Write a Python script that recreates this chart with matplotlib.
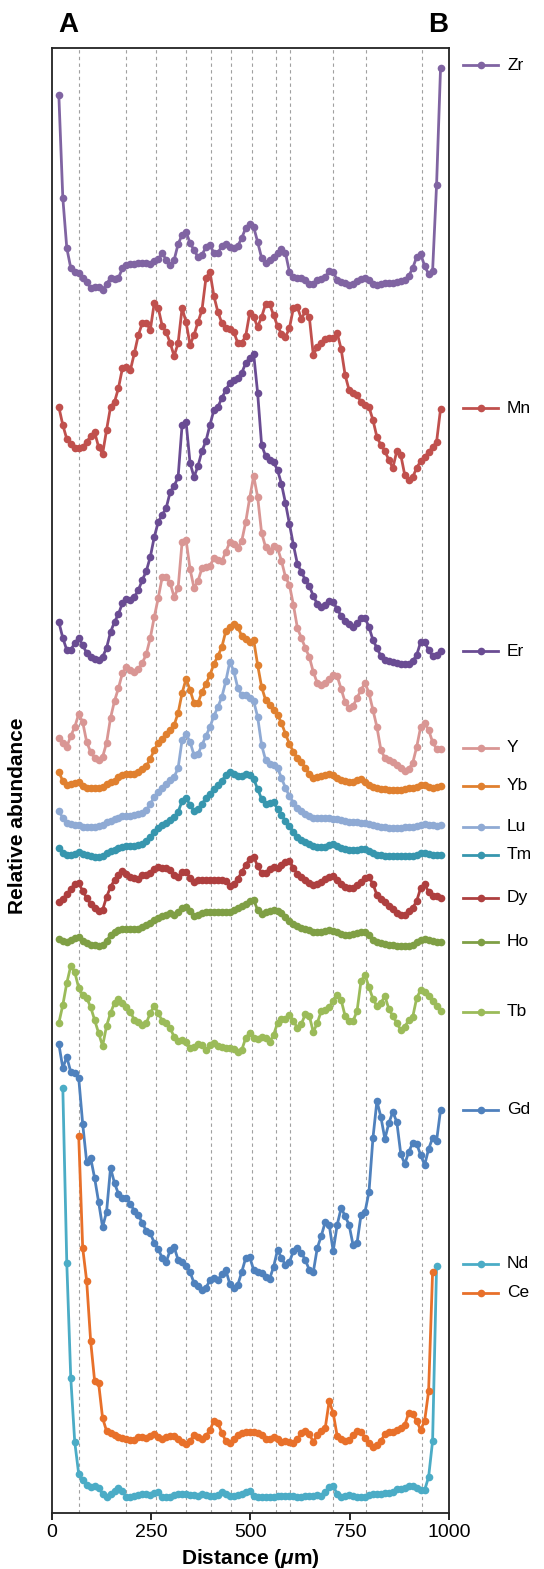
import numpy as np
import matplotlib.pyplot as plt
from matplotlib import transforms

plt.rcParams['font.family'] = ['Liberation Sans', 'DejaVu Sans']
plt.rcParams['mathtext.fontset'] = 'custom'
plt.rcParams['mathtext.it'] = 'Liberation Sans:italic:bold'
plt.rcParams['mathtext.rm'] = 'Liberation Sans:bold'

# Mätpunkter längs profilen A-B (µm)
distance = np.arange(18, 979, 10)

# Relativ halt (förskjuten per element)
zr = [1418, 1315, 1265, 1245, 1241, 1240, 1235, 1231, 1225, 1226,
      1226, 1223, 1229, 1235, 1234, 1235, 1245, 1248, 1249, 1249,
      1250, 1250, 1250, 1249, 1252, 1254, 1260, 1253, 1248, 1253,
      1269, 1278, 1281, 1270, 1263, 1256, 1258, 1266, 1268, 1260,
      1260, 1267, 1269, 1266, 1265, 1267, 1275, 1285, 1289, 1286,
      1271, 1255, 1250, 1253, 1256, 1260, 1264, 1260, 1241, 1236,
      1235, 1235, 1233, 1229, 1229, 1233, 1234, 1236, 1242, 1241,
      1233, 1231, 1230, 1228, 1229, 1232, 1234, 1235, 1233, 1229,
      1228, 1229, 1230, 1230, 1230, 1231, 1232, 1233, 1237, 1245,
      1256, 1259, 1247, 1239, 1242, 1328, 1445]
mn = [1106, 1088, 1074, 1069, 1065, 1065, 1066, 1071, 1077, 1081,
      1066, 1059, 1083, 1106, 1111, 1125, 1145, 1146, 1143, 1160,
      1178, 1190, 1190, 1183, 1210, 1205, 1187, 1181, 1170, 1157,
      1170, 1205, 1191, 1168, 1178, 1191, 1203, 1235, 1241, 1217,
      1201, 1190, 1185, 1184, 1181, 1170, 1170, 1177, 1200, 1196,
      1186, 1196, 1209, 1209, 1198, 1187, 1179, 1176, 1185, 1205,
      1206, 1194, 1202, 1196, 1158, 1166, 1170, 1174, 1175, 1175,
      1180, 1164, 1138, 1123, 1120, 1118, 1111, 1108, 1106, 1093,
      1076, 1068, 1062, 1053, 1045, 1062, 1058, 1038, 1033, 1036,
      1045, 1052, 1056, 1061, 1066, 1071, 1104]
er = [891, 875, 863, 863, 870, 875, 868, 860, 856, 854,
      853, 856, 865, 881, 891, 899, 910, 914, 913, 916,
      923, 933, 942, 956, 976, 991, 998, 1005, 1021, 1027,
      1036, 1088, 1091, 1050, 1036, 1047, 1062, 1072, 1088, 1103,
      1106, 1115, 1123, 1130, 1133, 1135, 1140, 1150, 1155, 1159,
      1120, 1068, 1057, 1053, 1051, 1043, 1029, 1010, 989, 968,
      949, 941, 933, 927, 917, 909, 906, 908, 912, 911,
      904, 897, 892, 889, 886, 890, 895, 895, 886, 873,
      865, 857, 853, 852, 851, 850, 849, 849, 849, 852,
      858, 871, 871, 863, 857, 858, 862]
y = [775, 770, 766, 777, 786, 799, 791, 771, 761, 755,
     753, 756, 770, 795, 812, 825, 840, 846, 843, 841,
     844, 850, 859, 875, 896, 915, 936, 936, 930, 916,
     925, 971, 973, 944, 925, 932, 945, 946, 947, 955,
     953, 952, 961, 971, 969, 965, 972, 991, 1015, 1037,
     1016, 980, 966, 962, 967, 965, 952, 936, 928, 908,
     885, 875, 865, 856, 841, 830, 828, 830, 834, 838,
     837, 824, 811, 805, 807, 815, 823, 830, 820, 803,
     786, 763, 755, 753, 751, 748, 745, 742, 744, 750,
     766, 786, 790, 783, 771, 764, 764]
yb = [741, 732, 728, 729, 730, 731, 727, 725, 725, 725,
      725, 726, 729, 731, 732, 736, 738, 739, 739, 739,
      741, 744, 747, 754, 763, 770, 774, 779, 783, 788,
      800, 820, 834, 823, 810, 810, 821, 829, 838, 849,
      857, 866, 882, 886, 889, 886, 877, 874, 871, 873,
      848, 826, 813, 808, 803, 798, 790, 779, 769, 761,
      755, 751, 745, 739, 735, 736, 737, 738, 739, 738,
      735, 733, 732, 731, 731, 733, 734, 731, 728, 726,
      725, 724, 724, 723, 723, 723, 723, 724, 725, 725,
      726, 728, 728, 726, 725, 726, 727]
lu = [702, 695, 690, 689, 688, 688, 686, 686, 686, 686,
      687, 688, 691, 692, 694, 695, 697, 697, 697, 698,
      699, 700, 703, 709, 716, 721, 725, 729, 733, 736,
      745, 773, 779, 771, 758, 759, 768, 777, 786, 797,
      806, 816, 832, 851, 842, 825, 818, 818, 815, 812,
      796, 768, 753, 749, 748, 745, 735, 725, 717, 710,
      705, 702, 699, 697, 695, 695, 695, 695, 695, 694,
      694, 693, 692, 691, 691, 691, 690, 690, 689, 688,
      687, 686, 686, 685, 685, 685, 685, 686, 686, 686,
      687, 688, 689, 688, 688, 687, 688]
tm = [665, 660, 658, 658, 659, 661, 659, 658, 657, 656,
      656, 657, 660, 662, 663, 665, 666, 667, 667, 667,
      668, 669, 672, 676, 681, 685, 688, 690, 693, 696,
      701, 712, 715, 708, 702, 704, 709, 715, 719, 724,
      728, 732, 738, 741, 739, 737, 737, 739, 738, 734,
      724, 714, 709, 710, 711, 704, 698, 692, 687, 681,
      676, 673, 671, 669, 667, 666, 666, 666, 668, 669,
      667, 665, 664, 663, 663, 663, 664, 664, 662, 660,
      658, 658, 657, 657, 657, 657, 657, 657, 657, 657,
      658, 660, 660, 659, 658, 658, 658]
dy = [611, 614, 619, 624, 629, 630, 622, 615, 609, 605,
      602, 603, 616, 626, 633, 638, 642, 639, 636, 635,
      634, 638, 638, 640, 644, 646, 645, 645, 643, 638,
      636, 641, 641, 635, 631, 633, 633, 633, 633, 633,
      633, 633, 632, 627, 629, 634, 641, 648, 654, 656,
      647, 640, 640, 644, 646, 645, 648, 651, 652, 645,
      639, 636, 633, 630, 628, 629, 631, 634, 636, 637,
      633, 629, 626, 625, 625, 628, 631, 635, 636, 629,
      618, 614, 611, 607, 604, 600, 598, 598, 602, 605,
      612, 625, 629, 621, 617, 617, 615]
ho = [574, 572, 571, 573, 575, 576, 572, 570, 568, 568,
      567, 568, 572, 578, 581, 583, 584, 584, 584, 584,
      584, 586, 588, 590, 593, 595, 597, 598, 600, 598,
      601, 605, 606, 602, 597, 598, 600, 601, 601, 601,
      601, 601, 601, 601, 603, 605, 607, 609, 612, 613,
      603, 599, 601, 602, 603, 602, 600, 596, 592, 589,
      587, 585, 584, 583, 581, 581, 581, 582, 583, 582,
      581, 579, 578, 578, 579, 580, 581, 581, 578, 573,
      571, 570, 569, 568, 568, 567, 567, 567, 567, 568,
      571, 573, 574, 573, 572, 571, 571]
tb = [490, 508, 530, 547, 541, 525, 518, 515, 506, 493,
      480, 467, 487, 500, 510, 514, 510, 506, 501, 493,
      491, 488, 490, 500, 507, 500, 492, 490, 485, 476,
      472, 473, 471, 465, 466, 469, 468, 463, 468, 470,
      467, 466, 465, 465, 464, 461, 463, 475, 480, 475,
      474, 476, 475, 471, 478, 490, 494, 494, 498, 492,
      485, 489, 499, 497, 481, 490, 502, 503, 506, 512,
      518, 513, 497, 492, 492, 502, 532, 538, 526, 514,
      507, 510, 517, 504, 497, 490, 483, 486, 493, 496,
      515, 523, 521, 517, 512, 507, 502]
gd = [469, 445, 456, 441, 440, 435, 389, 351, 355, 335,
      311, 286, 301, 345, 330, 319, 315, 315, 309, 302,
      298, 290, 282, 280, 270, 264, 255, 251, 263, 266,
      253, 251, 247, 241, 230, 227, 223, 225, 233, 235,
      233, 239, 243, 229, 225, 228, 241, 255, 256, 243,
      241, 240, 236, 234, 246, 263, 255, 248, 251, 262,
      265, 260, 253, 243, 241, 265, 277, 291, 288, 262,
      288, 305, 297, 288, 268, 270, 298, 301, 321, 375,
      412, 396, 374, 390, 401, 391, 359, 349, 361, 370,
      369, 358, 348, 364, 375, 372, 403]
# Nd mätt från punkt 1 till 95, Ce från punkt 5 till 94
nd = [425, 250, 135, 71, 39, 33, 28, 26, 27,
      25, 19, 16, 19, 22, 25, 22, 16, 16, 17,
      18, 19, 19, 18, 20, 21, 16, 16, 16, 18,
      19, 19, 19, 18, 18, 17, 19, 18, 17, 17,
      18, 21, 19, 17, 17, 18, 19, 21, 22, 17,
      16, 16, 16, 16, 16, 17, 17, 17, 17, 17,
      16, 16, 17, 17, 17, 18, 17, 21, 26, 27,
      19, 16, 17, 18, 17, 16, 16, 16, 18, 19,
      19, 19, 20, 20, 21, 24, 24, 25, 27, 27,
      25, 23, 23, 36, 72, 247]
ce = [377, 265, 232, 172, 132,
      130, 95, 82, 80, 78, 76, 75, 74, 73, 73,
      76, 76, 75, 77, 79, 76, 74, 76, 77, 77,
      74, 71, 69, 72, 78, 76, 74, 77, 83, 92,
      90, 80, 72, 70, 74, 78, 80, 81, 81, 81,
      80, 78, 74, 74, 76, 74, 71, 72, 71, 70,
      74, 80, 82, 79, 71, 78, 82, 85, 112, 100,
      77, 74, 72, 73, 78, 82, 81, 75, 70, 66,
      68, 72, 79, 81, 81, 83, 85, 88, 100, 99,
      92, 83, 92, 122, 241]

names = ['Zr', 'Mn', 'Er', 'Y', 'Yb', 'Lu', 'Tm', 'Dy', 'Ho', 'Tb', 'Gd', 'Nd', 'Ce']
values = [zr, mn, er, y, yb, lu, tm, dy, ho, tb, gd, nd, ce]
start = [0, 0, 0, 0, 0, 0, 0, 0, 0, 0, 0, 1, 5]
colors = ['#8064A2', '#C0504D', '#6A4C93', '#D99694', '#E0802F', '#8FAAD4', '#3796AE',
          '#AE3F3F', '#7F9F45', '#9BBB59', '#4F81BD', '#4BACC6', '#E8702A']
# etikettens höjd i högermarginalen (samma skala som data)
label_y = [1448, 1105, 862, 765, 727, 686, 658, 615, 571, 501, 403, 249, 220]

# gränser mellan zoner (µm)
zones = [69, 188, 262, 337, 400, 450, 505, 563, 600, 708, 790, 931]

fig = plt.figure(figsize=(5.44, 15.69), dpi=100)
ax = fig.add_axes([0.095, 0.0357, 0.7309, 0.9337])

for z in zones:
    ax.axvline(z, color='#a0a0a0', ls=(0, (3, 3)), lw=0.8, zorder=0)

trans = transforms.blended_transform_factory(ax.transAxes, ax.transData)
for name, v, s, c, ly in zip(names, values, start, colors, label_y):
    xs = distance[s:s + len(v)]
    ax.plot(xs, v, '-o', color=c, lw=2.0, ms=5.5, mew=0)
    ax.plot([1.0345, 1.1225], [ly, ly], color=c, lw=2.0, transform=trans, clip_on=False)
    ax.plot([1.0797], [ly], 'o', color=c, ms=5.5, mew=0, transform=trans, clip_on=False)
    ax.text(1.1452, ly, name, transform=trans, va='center', ha='left', fontsize=12.5)

ax.set_xlim(0, 1000)
ax.set_ylim(0, 1465)
ax.set_xticks([0, 250, 500, 750, 1000])
ax.set_yticks([])
ax.tick_params(axis='x', labelsize=14, length=5, width=1.2, direction='out', pad=3)
for sp in ax.spines.values():
    sp.set_linewidth(1.3)
    sp.set_color('#222222')

ax.set_xlabel('Distance ($\\mu$m)', fontsize=15, fontweight='bold', labelpad=4)
ax.set_ylabel('Relative abundance', fontsize=15, fontweight='bold')
ax.yaxis.set_label_coords(-0.062, 0.476)

fig.text(68 / 544, 1 - 25 / 1569, 'A', fontsize=20, fontweight='bold', ha='center', va='center')
fig.text(438 / 544, 1 - 25 / 1569, 'B', fontsize=20, fontweight='bold', ha='center', va='center')

fig.savefig('out.png', dpi=100)
